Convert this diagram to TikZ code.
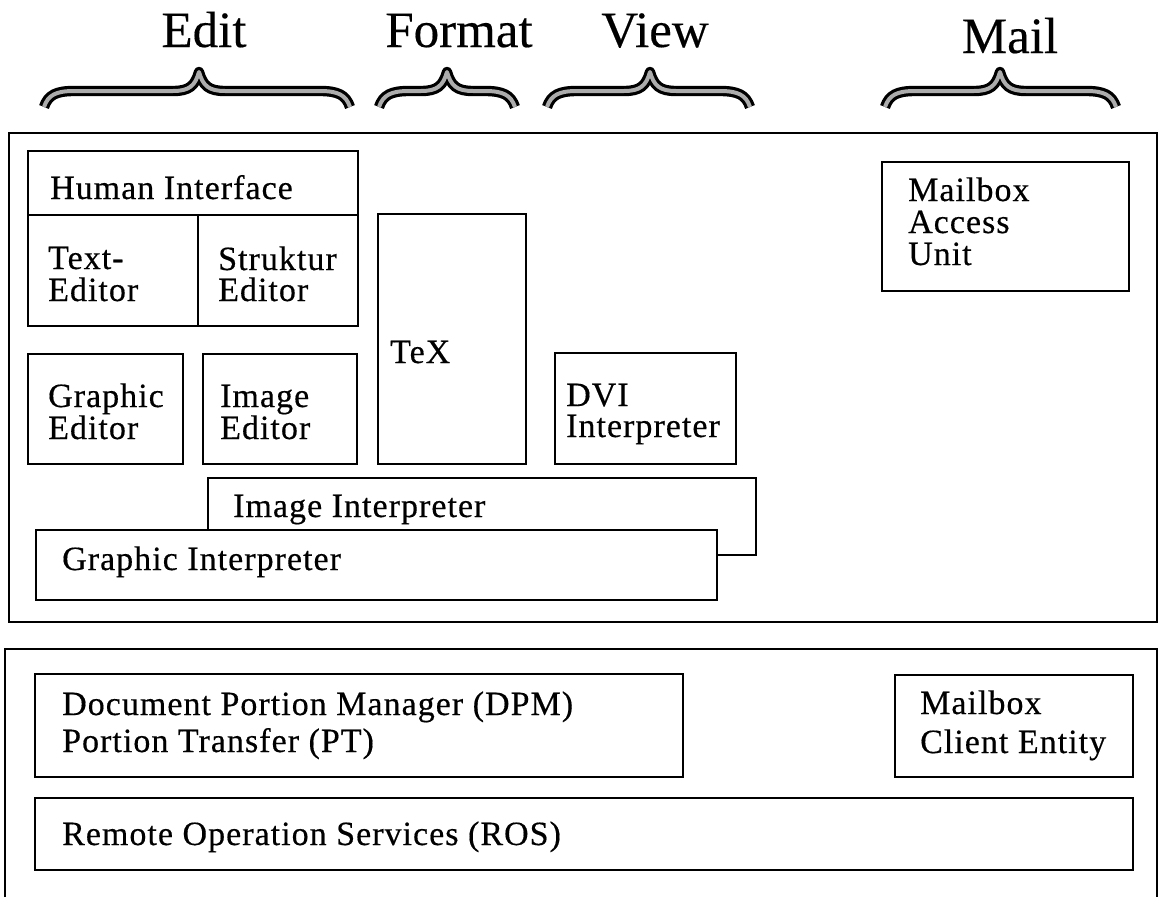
\documentclass[tikz,border=0pt]{standalone}
\usepackage{fontspec}
\setmainfont{Liberation Serif}
\newfontfamily\bodyfont[LetterSpace=3,FakeBold=0.4]{Liberation Serif}
\newfontfamily\titlefont[FakeBold=0.3]{Liberation Serif}
\usetikzlibrary{fit}
\begin{document}
\begin{tikzpicture}[x=1pt,y=-1pt,
  box/.style={draw=black, line width=2.2pt, inner sep=0pt, fill=white},
  frame/.style={draw=black, line width=2.6pt},
  lbl/.style={inner sep=0pt, anchor=base west, font=\bodyfont\fontsize{34}{40}\selectfont},
  ttl/.style={inner sep=0pt, anchor=base, font=\titlefont\fontsize{51}{56}\selectfont},
  brace/.style={double=gray!65, double distance=4pt, line width=3.2pt, line join=round},
]
\useasboundingbox (0,0) rectangle (1159,897);

% group titles with their braces
\node[ttl] (tEdit)   at (204,47) {Edit};
\node[ttl] (tFormat) at (459,47) {Format};
\node[ttl] (tView)   at (655,47) {View};
\node[ttl] (tMail)   at (1010,53) {Mail};

\newcommand{\groupbrace}[3]{%
  \draw[brace] (#1,107) .. controls (#1+4,95) and (#1+12,91) .. (#1+30,91)
    -- (#3-26,91) .. controls (#3-10,91) and (#3-4,86) .. (#3,72)
    .. controls (#3+4,86) and (#3+10,91) .. (#3+26,91)
    -- (#2-30,91) .. controls (#2-12,91) and (#2-4,95) .. (#2,107);}
\groupbrace{44}{350}{199}
\groupbrace{379}{515}{447}
\groupbrace{547}{750}{650}
\groupbrace{885}{1116}{1000}

% upper layer
\draw[frame] (9,133) rectangle (1157,622);

\node[box, fit={(28,151) (358,215)}] (hi) {};
\node[box, fit={(28,215) (198,326)}] (te) {};
\node[box, fit={(198,215) (358,326)}] (se) {};
\node[lbl] (hiL) at (50,199) {Human Interface};
\node[lbl] (teL1) at (48,269) {Text-};
\node[lbl] (teL2) at (48,301) {Editor};
\node[lbl] (seL1) at (218,270) {Struktur};
\node[lbl] (seL2) at (218,301) {Editor};

\node[box, fit={(378,214) (526,464)}] (tex) {};
\node[lbl] (texL) at (390,363) {TeX};

\node[box, fit={(882,162) (1129,291)}] (mau) {};
\node[lbl] (mauL1) at (908,201) {Mailbox};
\node[lbl] (mauL2) at (908,233) {Access};
\node[lbl] (mauL3) at (908,265) {Unit};

\node[box, fit={(28,354) (183,464)}] (ge) {};
\node[lbl] (geL1) at (48,407) {Graphic};
\node[lbl] (geL2) at (48,439) {Editor};

\node[box, fit={(203,354) (357,464)}] (ie) {};
\node[lbl] (ieL1) at (220,407) {Image};
\node[lbl] (ieL2) at (220,439) {Editor};

\node[box, fit={(555,353) (736,464)}] (dvi) {};
\node[lbl] (dviL1) at (566,406) {DVI};
\node[lbl] (dviL2) at (566,437) {Interpreter};

\node[box, fit={(208,478) (756,555)}] (ii) {};
\node[lbl] (iiL) at (233,517) {Image Interpreter};

\node[box, fit={(36,530) (717,600)}] (gi) {};
\node[lbl] (giL) at (62,570) {Graphic Interpreter};

% lower layer (continues below the page edge)
\draw[frame] (5,897) -- (5,649) -- (1157,649) -- (1157,897);

\node[box, fit={(35,674) (683,777)}] (dpm) {};
\node[lbl] (dpmL1) at (62,715) {Document Portion Manager (DPM)};
\node[lbl] (dpmL2) at (62,752) {Portion Transfer (PT)};

\node[box, fit={(895,675) (1133,777)}] (mce) {};
\node[lbl] (mceL1) at (920,714) {Mailbox};
\node[lbl] (mceL2) at (920,753) {Client Entity};

\node[box, fit={(35,798) (1133,870)}] (ros) {};
\node[lbl] (rosL) at (62,845) {Remote Operation Services (ROS)};
\end{tikzpicture}
\end{document}
